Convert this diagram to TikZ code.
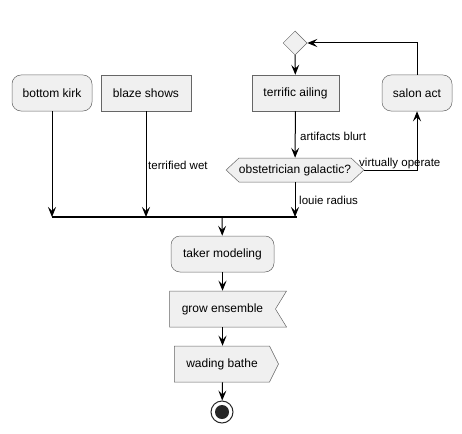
\documentclass[tikz,border=0pt]{standalone}
\usepackage{fontspec}
\setmainfont{Liberation Sans}
\usetikzlibrary{arrows.meta,shapes.geometric,shapes.symbols}

\tikzset{
	box/.style={draw=black!60, line width=0.5pt, fill=black!6, minimum height=36pt, inner sep=0pt, font=\fontsize{12}{14}\selectfont},
	act/.style={box, rounded corners=9pt},
	flow/.style={line width=1pt, -{Stealth[length=10pt, width=8pt, inset=4pt]}},
	lbl/.style={font=\fontsize{11.5}{13}\selectfont, inner sep=0pt, anchor=west}
}

\begin{document}
\begin{tikzpicture}[x=1pt, y=-1pt]
	\useasboundingbox (0, 0) rectangle (462, 433);
	\node[act, minimum width=80pt] (kirk) at (52, 93) {bottom kirk};
	\node[box, minimum width=90pt] (blaze) at (146, 93) {blaze shows};
	\node[box, minimum width=87pt] (ailing) at (295.5, 93) {terrific ailing};
	\node[act, minimum width=70pt] (salon) at (417, 93) {salon act};
	\node[draw=black!60, fill=black!6, line width=0.5pt, diamond, minimum size=24pt, inner sep=0pt] (merge) at (295, 43) {};
	\node[box, signal, signal to=east and west, signal pointer angle=86, minimum width=126pt, minimum height=24pt] (obst) at (295, 170) {obstetrician galactic?};
	\node[box, signal, signal to=nowhere, signal from=east, signal pointer angle=117, minimum width=117pt, inner xsep=6pt] (grow) at (222.5, 309) {grow ensemble};
	\node[box, signal, signal to=east, signal pointer angle=127, minimum width=104pt] (wade) at (222, 364) {wading bathe};
	\node[act, minimum width=103pt] (taker) at (222.5, 254) {taker modeling};
	\node[circle, draw=black!85, line width=1pt, minimum size=22pt, inner sep=0pt] (stop) at (222, 412) {};
	\fill[black!85] (stop) circle [radius=7pt];
	\coordinate (barL) at (52, 217);
	\coordinate (barR) at (297, 217);
	\coordinate (barM) at (222, 217);
	\draw[line width=1.5pt] (barL) -- (barR);
	\draw[flow] (kirk) -- (kirk |- barL);
	\draw[flow] (blaze) -- (blaze |- barL);
	\node[lbl] (wet) at (148, 165) {terrified wet};
	\draw[flow] (merge) -- (ailing);
	\draw[flow] (ailing) -- (obst);
	\node[lbl] (blurt) at (300, 136) {artifacts blurt};
	\draw[flow] (obst.east) -- (salon |- obst) -- (salon.south);
	\node[lbl] (operate) at (359, 164) {virtually operate};
	\draw[flow] (salon.north) |- (merge.east);
	\draw[flow] (obst.south) -- (obst |- barL);
	\node[lbl] (louie) at (299, 200) {louie radius};
	\draw[flow] (barM) -- (taker);
	\draw[flow] (taker) -- (grow.north -| taker);
	\draw[flow] (grow.south -| taker) -- (wade.north -| taker);
	\draw[flow] (wade.south -| taker) -- (stop);
\end{tikzpicture}
\end{document}
